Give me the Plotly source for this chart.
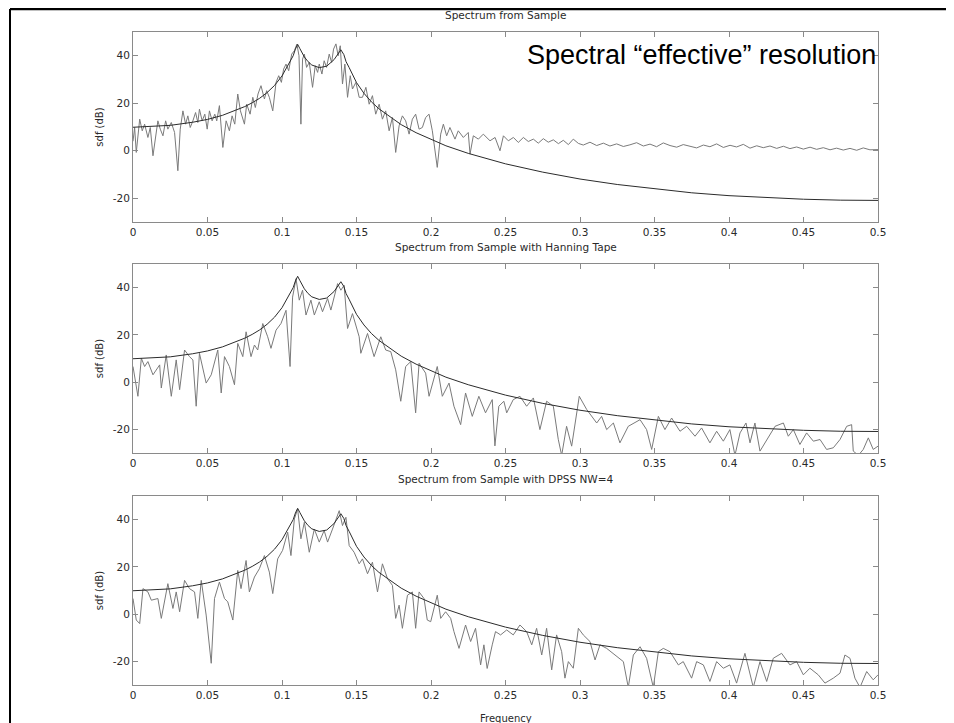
import plotly.graph_objects as go

# ---------------- data ----------------
freq_ticks = [0, 0.05, 0.1, 0.15, 0.2, 0.25, 0.3, 0.35, 0.4, 0.45, 0.5]
freq_tick_labels = ["0", "0.05", "0.1", "0.15", "0.2", "0.25", "0.3", "0.35", "0.4", "0.45", "0.5"]
db_ticks = [-20, 0, 20, 40]
db_tick_labels = ["-20", "0", "20", "40"]

panel_titles = ["Spectrum from Sample",
                "Spectrum from Sample with Hanning Tape",
                "Spectrum from Sample with DPSS NW=4"]

# true (theoretical) spectrum, dB
theory_freq = [0, 0.0125, 0.025, 0.04, 0.05, 0.06, 0.07, 0.075, 0.08, 0.085, 0.09, 0.095, 0.1,
               0.105, 0.1075, 0.109, 0.1105, 0.112, 0.1135, 0.115, 0.1175, 0.12, 0.125, 0.13,
               0.135, 0.1375, 0.1395, 0.1415, 0.143, 0.145, 0.1475, 0.15, 0.155, 0.16, 0.165,
               0.175, 0.18, 0.19, 0.2, 0.21, 0.225, 0.25, 0.275, 0.3, 0.325, 0.35, 0.375, 0.4,
               0.425, 0.45, 0.475, 0.5]
theory_db = [9.9, 10.2, 10.7, 12.0, 13.2, 14.9, 17.2, 18.6, 20.2, 22.1, 24.5, 27.5, 31.5,
             37.3, 40.0, 42.8, 44.8, 43.0, 41.0, 39.5, 37.5, 36.1, 35.0, 35.6,
             38.4, 41.0, 42.5, 40.5, 37.5, 35.1, 31.8, 28.7, 24.2, 20.6, 17.7,
             13.0, 11.0, 7.6, 4.7, 2.1, -1.1, -5.5, -9.0, -11.9, -14.2, -16.1, -17.7, -18.9,
             -19.8, -20.4, -20.8, -20.9]

# periodogram (no taper)
raw_freq = [0.0, 0.0011, 0.0022, 0.0045, 0.0062, 0.0078, 0.0100, 0.0116, 0.0134, 0.0152,
            0.0167, 0.0183, 0.0201, 0.0219, 0.0234, 0.0257, 0.0279, 0.0301, 0.0317, 0.0335,
            0.0353, 0.0368, 0.0384, 0.0402, 0.0420, 0.0435, 0.0446, 0.0464, 0.0482, 0.0498,
            0.0513, 0.0531, 0.0549, 0.0562, 0.0580, 0.0603, 0.0625, 0.0647, 0.0665, 0.0683,
            0.0703, 0.0721, 0.0748, 0.0763, 0.0786, 0.0804, 0.0821, 0.0839, 0.0859, 0.0882,
            0.0897, 0.0915, 0.0938, 0.0960, 0.0978, 0.0996, 0.1011, 0.1027, 0.1045, 0.1065,
            0.1083, 0.1100, 0.1114, 0.1127, 0.1138, 0.1150, 0.1165, 0.1183, 0.1205, 0.1223,
            0.1239, 0.1250, 0.1268, 0.1283, 0.1299, 0.1317, 0.1333, 0.1346, 0.1362, 0.1377,
            0.1391, 0.1406, 0.1422, 0.1440, 0.1458, 0.1473, 0.1496, 0.1518, 0.1540, 0.1563,
            0.1585, 0.1607, 0.1629, 0.1652, 0.1674, 0.1696, 0.1719, 0.1741, 0.1763, 0.1786,
            0.1808, 0.1830, 0.1853, 0.1875, 0.1897, 0.1920, 0.1942, 0.1964, 0.1987, 0.2009,
            0.2042, 0.2065, 0.2083, 0.2105, 0.2127, 0.2161, 0.2183, 0.2217, 0.2250, 0.2262,
            0.2284, 0.2318, 0.2351, 0.2396, 0.2430, 0.2463, 0.2486, 0.2519, 0.2553, 0.2586,
            0.2620, 0.2653, 0.2687, 0.2720, 0.2754, 0.2787, 0.2821, 0.2855, 0.2888, 0.2922,
            0.2955, 0.2989, 0.3022, 0.3067, 0.3112, 0.3157, 0.3201, 0.3246, 0.3291, 0.3335,
            0.3380, 0.3425, 0.3470, 0.3514, 0.3559, 0.3604, 0.3649, 0.3693, 0.3738, 0.3783,
            0.3828, 0.3872, 0.3917, 0.3962, 0.4007, 0.4051, 0.4096, 0.4141, 0.4186, 0.4230,
            0.4275, 0.4320, 0.4365, 0.4409, 0.4454, 0.4499, 0.4544, 0.4588, 0.4633, 0.4678,
            0.4722, 0.4767, 0.4812, 0.4857, 0.4901, 0.4946, 0.5000]
raw_db = [4.0, 9.8, -0.7, 13.3, 8.4, 11.2, 5.6, 9.8, -2.1, 7.0,
          12.6, 9.1, 6.3, 12.6, 9.1, 11.9, 7.7, -8.4, 9.1, 16.8,
          11.2, 14.7, 9.8, 12.6, 16.1, 11.9, 17.5, 12.6, 15.4, 9.1,
          16.8, 12.6, 15.4, 12.6, 19.0, 1.4, 12.6, 8.4, 14.7, 11.2,
          23.9, 16.8, 11.2, 19.6, 15.4, 22.5, 18.2, 23.9, 27.4, 21.8,
          25.3, 22.5, 16.8, 28.8, 31.6, 28.8, 34.4, 36.5, 33.7, 40.7,
          42.1, 44.9, 40.0, 11.2, 38.6, 40.7, 35.1, 37.2, 26.7, 35.8,
          33.0, 36.5, 32.3, 37.9, 35.1, 40.7, 37.2, 42.8, 45.0, 40.0,
          44.2, 28.1, 36.5, 22.5, 31.6, 26.0, 28.8, 22.5, 22.5, 26.7,
          19.6, 23.2, 15.4, 19.6, 13.3, 16.8, 8.4, 14.0, -0.7, 10.5,
          14.7, 12.6, 7.0, 13.3, 15.4, 9.1, 9.8, 14.0, 15.4, 8.4,
          -7.0, 7.0, 11.2, 6.3, 9.8, 4.9, 8.4, 5.6, 7.7, -1.4,
          6.3, 4.9, 7.0, 4.2, 5.6, 0.0, 6.3, 4.2, 5.6, 3.5,
          5.6, 3.9, 4.9, 3.2, 5.1, 3.6, 4.6, 3.0, 4.4, 2.6,
          4.9, 3.1, 2.4, 3.6, 2.2, 3.2, 2.0, 2.9, 1.8, 2.5,
          3.4, 2.0, 2.8, 1.7, 3.3, 2.2, 1.5, 2.6, 2.0, 1.2,
          2.4, 1.7, 2.9, 1.4, 2.3, 1.6, 2.7, 1.1, 2.1, 1.3,
          2.0, 1.0, 1.9, 0.9, 1.6, 0.7, 1.5, 0.6, 1.3, 0.4,
          1.1, 0.3, 1.0, 0.2, 1.2, 0.4, 0.5]

# Hanning-tapered estimate
hann_freq = [0.0, 0.0011, 0.0033, 0.0056, 0.0078, 0.0100, 0.0134, 0.0179, 0.0190, 0.0223,
             0.0257, 0.0290, 0.0313, 0.0346, 0.0379, 0.0402, 0.0424, 0.0446, 0.0491, 0.0525,
             0.0569, 0.0592, 0.0614, 0.0647, 0.0681, 0.0703, 0.0737, 0.0759, 0.0792, 0.0815,
             0.0837, 0.0871, 0.0904, 0.0926, 0.0960, 0.0993, 0.1027, 0.1054, 0.1071, 0.1094,
             0.1116, 0.1138, 0.1161, 0.1194, 0.1217, 0.1250, 0.1272, 0.1306, 0.1328, 0.1373,
             0.1395, 0.1417, 0.1440, 0.1473, 0.1518, 0.1529, 0.1574, 0.1618, 0.1663, 0.1696,
             0.1730, 0.1763, 0.1797, 0.1830, 0.1864, 0.1897, 0.1920, 0.1964, 0.1987, 0.2042,
             0.2076, 0.2121, 0.2154, 0.2199, 0.2232, 0.2277, 0.2321, 0.2366, 0.2411, 0.2429,
             0.2455, 0.2489, 0.2508, 0.2552, 0.2597, 0.2642, 0.2687, 0.2731, 0.2776, 0.2821,
             0.2854, 0.2877, 0.2910, 0.2944, 0.2995, 0.3045, 0.3078, 0.3112, 0.3145, 0.3179,
             0.3224, 0.3268, 0.3324, 0.3403, 0.3447, 0.3481, 0.3526, 0.3570, 0.3615, 0.3671,
             0.3716, 0.3772, 0.3816, 0.3872, 0.3917, 0.3962, 0.4006, 0.4040, 0.4074, 0.4114,
             0.4141, 0.4174, 0.4208, 0.4253, 0.4309, 0.4365, 0.4398, 0.4432, 0.4476, 0.4521,
             0.4566, 0.4611, 0.4655, 0.4700, 0.4745, 0.4790, 0.4823, 0.4834, 0.4868, 0.4901,
             0.4935, 0.4968, 0.5000]
hann_db = [6.6, 2.4, -6.0, 10.1, 6.6, 8.7, 3.1, 7.3, -2.5, 11.5,
           -6.0, 9.4, -3.2, 13.6, 10.8, 9.4, -10.2, 12.2, -0.4, 3.1,
           13.6, -4.6, 10.8, 6.6, -1.1, 16.4, 10.8, 21.3, 10.8, 15.7,
           13.6, 24.8, 19.2, 14.3, 22.0, 24.8, 30.4, 6.6, 36.0, 43.8,
           34.7, 38.9, 28.4, 34.7, 28.4, 34.0, 29.8, 35.4, 30.5, 41.7,
           38.9, 41.0, 22.7, 29.0, 19.2, 12.2, 20.6, 10.8, 19.2, 13.6,
           12.9, 5.2, -8.1, 6.6, 8.7, -13.0, 8.0, 3.8, -6.0, 6.6,
           -6.0, -0.4, -10.2, -18.0, -4.6, -14.5, -6.0, -13.0, -7.4, -27.0,
           -10.2, -8.1, -13.0, -7.4, -6.0, -10.2, -6.7, -20.1, -8.1, -10.2,
           -24.2, -31.0, -18.7, -27.1, -6.0, -11.6, -14.5, -17.3, -14.5, -20.1,
           -17.3, -25.7, -18.7, -15.9, -20.1, -28.5, -14.5, -20.1, -15.2, -20.8,
           -18.7, -22.9, -19.4, -25.7, -20.8, -25.0, -20.1, -31.0, -21.5, -17.3,
           -25.7, -17.3, -29.2, -24.3, -18.7, -17.3, -22.9, -20.1, -26.4, -21.5,
           -25.0, -24.3, -28.5, -27.8, -24.3, -18.7, -18.0, -29.2, -31.0, -28.5,
           -23.6, -28.5, -27.1]

# DPSS (NW=4) tapered estimate
dpss_freq = [0.0, 0.0022, 0.0045, 0.0067, 0.0100, 0.0123, 0.0167, 0.0190, 0.0234, 0.0268,
             0.0290, 0.0313, 0.0346, 0.0379, 0.0413, 0.0435, 0.0458, 0.0491, 0.0525, 0.0547,
             0.0580, 0.0614, 0.0636, 0.0670, 0.0703, 0.0725, 0.0759, 0.0781, 0.0815, 0.0848,
             0.0882, 0.0915, 0.0938, 0.0971, 0.1004, 0.1038, 0.1060, 0.1083, 0.1105, 0.1127,
             0.1150, 0.1183, 0.1217, 0.1250, 0.1283, 0.1306, 0.1339, 0.1384, 0.1406, 0.1429,
             0.1451, 0.1484, 0.1518, 0.1540, 0.1574, 0.1607, 0.1641, 0.1674, 0.1708, 0.1741,
             0.1763, 0.1786, 0.1808, 0.1842, 0.1875, 0.1897, 0.1920, 0.1953, 0.1975, 0.1998,
             0.2042, 0.2065, 0.2098, 0.2132, 0.2154, 0.2188, 0.2232, 0.2266, 0.2299, 0.2333,
             0.2355, 0.2377, 0.2411, 0.2433, 0.2467, 0.2508, 0.2552, 0.2597, 0.2642, 0.2676,
             0.2709, 0.2743, 0.2776, 0.2810, 0.2843, 0.2877, 0.2899, 0.2922, 0.2955, 0.2989,
             0.3022, 0.3067, 0.3101, 0.3134, 0.3179, 0.3235, 0.3291, 0.3324, 0.3358, 0.3403,
             0.3447, 0.3492, 0.3526, 0.3559, 0.3604, 0.3660, 0.3693, 0.3749, 0.3783, 0.3828,
             0.3872, 0.3917, 0.3962, 0.4006, 0.4051, 0.4107, 0.4163, 0.4208, 0.4253, 0.4297,
             0.4353, 0.4409, 0.4454, 0.4499, 0.4543, 0.4599, 0.4644, 0.4700, 0.4745, 0.4778,
             0.4812, 0.4845, 0.4879, 0.4924, 0.4968, 0.5000]
dpss_db = [6.6, -2.5, -4.0, 10.8, 9.4, 5.9, 6.6, -1.8, 12.9, 2.4,
           9.4, 1.0, 14.3, 10.8, 9.4, -1.8, 14.3, -0.4, -20.8, 6.6,
           13.6, 6.6, 5.2, -2.5, 18.5, 10.8, 22.7, 9.4, 15.7, 19.2,
           24.8, 17.8, 8.7, 23.4, 27.0, 34.7, 24.8, 40.3, 44.5, 31.9,
           38.9, 26.2, 36.0, 30.5, 35.4, 30.5, 36.0, 43.8, 37.5, 41.0,
           29.0, 26.2, 21.3, 23.4, 17.1, 22.0, 9.4, 21.3, 15.0, 12.2,
           -1.8, 3.8, -6.0, 8.0, 9.4, -6.0, 9.4, 6.6, -2.5, -3.2,
           8.0, -1.8, 1.0, -1.8, -7.4, -14.5, -4.6, -11.6, -6.0, -21.5,
           -13.0, -23.0, -13.0, -7.4, -8.8, -6.7, -8.8, -4.6, -7.4, -13.0,
           -6.0, -17.3, -6.0, -23.6, -8.8, -15.9, -27.1, -20.1, -22.9, -6.0,
           -8.8, -11.6, -19.4, -13.0, -14.5, -17.3, -20.1, -31.0, -17.3, -13.8,
           -18.7, -31.0, -15.9, -14.5, -15.9, -21.5, -20.1, -27.1, -20.1, -21.5,
           -28.5, -20.1, -22.9, -21.5, -29.2, -16.6, -31.0, -20.1, -28.5, -18.7,
           -16.6, -21.5, -20.1, -25.7, -22.9, -25.7, -29.2, -27.1, -25.0, -17.3,
           -18.7, -27.1, -31.0, -24.3, -27.8, -25.7]

# ---------------- figure ----------------
FONT = "DejaVu Sans, Liberation Sans, sans-serif"
BIGFONT = "Liberation Sans, Arial, sans-serif"
AXCOL = "#8a8a8a"
NOISY = "#7a7a7a"
TRUE = "#2b2b2b"
TXT = "#2a2a2a"

L, T, PW, PH = 125, 24, 745, 653
W, H = 954, 723

fig = go.Figure()
series = [(raw_freq, raw_db), (hann_freq, hann_db), (dpss_freq, dpss_db)]
domains = [[0.7090, 1.0], [0.3553, 0.6447], [0.0, 0.2894]]

for i, (fx, fy) in enumerate(series):
    s = "" if i == 0 else str(i + 1)
    fig.add_trace(go.Scatter(x=fx, y=fy, mode="lines", line=dict(color=NOISY, width=1),
                             xaxis="x" + s, yaxis="y" + s, showlegend=False, hoverinfo="skip"))
    fig.add_trace(go.Scatter(x=theory_freq, y=theory_db, mode="lines",
                             line=dict(color=TRUE, width=1),
                             xaxis="x" + s, yaxis="y" + s, showlegend=False, hoverinfo="skip"))
    xa = dict(domain=[0, 1], range=[0, 0.5], tickvals=freq_ticks, ticktext=freq_tick_labels,
              ticks="inside", ticklen=5, tickcolor=AXCOL, showline=True, linecolor=AXCOL,
              linewidth=1, mirror="ticks", showgrid=False, zeroline=False,
              tickfont=dict(family=FONT, size=10.5, color=TXT), anchor="y" + s)
    ya = dict(domain=domains[i], range=[-30, 50], tickvals=db_ticks, ticktext=db_tick_labels,
              ticks="inside", ticklen=5, tickcolor=AXCOL, showline=True, linecolor=AXCOL,
              linewidth=1, mirror="ticks", showgrid=False, zeroline=False,
              tickfont=dict(family=FONT, size=10.5, color=TXT), anchor="x" + s,
              title=dict(text="sdf (dB)", font=dict(family=FONT, size=10, color=TXT), standoff=7))
    fig.update_layout(**{"xaxis" + s: xa, "yaxis" + s: ya})

# panel titles
title_y = [1.0, 0.6447, 0.2894]
for t, yv in zip(panel_titles, title_y):
    fig.add_annotation(text=t, xref="paper", yref="paper", x=0.5, y=yv, xanchor="center",
                       yanchor="middle", showarrow=False, yshift=17,
                       font=dict(family=FONT, size=10.5, color=TXT))

fig.add_annotation(text="Frequency", xref="paper", yref="paper", x=0.5, y=0.0,
                   xanchor="center", yanchor="middle", showarrow=False, yshift=-33,
                   font=dict(family=FONT, size=10, color=TXT))

fig.add_annotation(text="Spectral \u201ceffective\u201d resolution", xref="paper", yref="paper",
                   x=1.0, y=(T + PH - 47) / PH, xanchor="right", yanchor="middle",
                   showarrow=False, font=dict(family=BIGFONT, size=27, color="#000"))

# outer frame (top and left black rules)
x_frame = (2 - L) / PW
y_frame = (T + PH - 1) / PH
fig.add_shape(type="line", xref="paper", yref="paper", x0=x_frame, x1=(W - L) / PW,
              y0=y_frame, y1=y_frame, line=dict(color="#000", width=2.5))
fig.add_shape(type="line", xref="paper", yref="paper", x0=x_frame, x1=x_frame,
              y0=y_frame, y1=-(H - T - PH) / PH, line=dict(color="#000", width=2))

fig.update_layout(width=W, height=H, margin=dict(l=L, r=W - L - PW, t=T, b=H - T - PH),
                  paper_bgcolor="white", plot_bgcolor="white", showlegend=False)

fig.write_html("out.html")
